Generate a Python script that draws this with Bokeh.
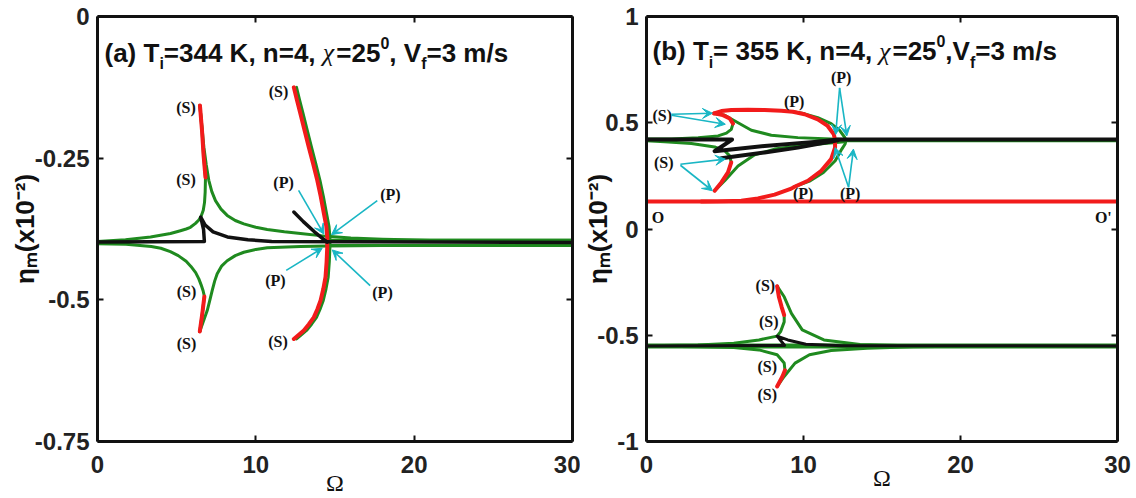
import math
from bokeh.plotting import figure
from bokeh.layouts import row
from bokeh.models import (Range1d, LinearAxis, FixedTicker, Label, Arrow, VeeHead,
                          ColumnDataSource, CustomJSTickFormatter, CustomLabelingPolicy)
from bokeh.core.properties import value
from bokeh.embed import file_html
from bokeh.resources import INLINE

GREEN = "#1f8a1f"
RED = "#f21b1b"
BLACK = "#111111"
CYAN = "#19b6c4"
SANS = "Liberation Sans"
SERIF = "Liberation Serif"

# ---------------- data : panel (a) ----------------
x_ticks = [0, 10, 20, 30]
a_yticks = [-0.75, -0.5, -0.25, 0]
y_label = "\u03b7\u2098(x10\u207b\u00b2)"
x_label = "\u03a9"

a_black_x = [0, 6.75, 6.7, 6.52, 6.8, 7.3, 8.2, 9.5, 11.0, 30]
a_black_y = [-0.398, -0.397, -0.376, -0.354, -0.368, -0.380, -0.389, -0.394, -0.397, -0.399]
a_black2_x = [12.4, 13.0, 13.7, 14.5]
a_black2_y = [-0.345, -0.362, -0.380, -0.398]

a_band_x = [14.5, 30]
a_band_up_y = [-0.395, -0.395]
a_band_lo_y = [-0.404, -0.404]

a_ui_x = [0, 1.77, 3.35, 4.61, 5.24, 5.6, 5.87, 6.19, 6.4, 6.55, 6.68, 6.76, 6.8, 6.82,
          6.7, 6.6, 6.47]
a_ui_y = [-0.397, -0.394, -0.389, -0.383, -0.378, -0.375, -0.372, -0.365, -0.359, -0.352,
          -0.342, -0.328, -0.310, -0.284, -0.245, -0.201, -0.157]
a_ui_red_x = [6.82, 6.7, 6.6, 6.47]
a_ui_red_y = [-0.284, -0.245, -0.201, -0.157]
a_uo_x = [6.46, 6.58, 6.72, 6.87, 7.03, 7.22, 7.45, 7.8, 8.19, 8.7, 9.24, 10.0, 10.72, 11.8,
          12.82, 14.5, 16, 18, 21, 30]
a_uo_y = [-0.157, -0.190, -0.231, -0.262, -0.289, -0.309, -0.325, -0.340, -0.351, -0.360,
          -0.366, -0.372, -0.376, -0.380, -0.383, -0.388, -0.391, -0.393, -0.395, -0.395]

a_li_x = [0, 1.8, 3.4, 4.0, 4.6, 5.1, 5.6, 5.9, 6.2, 6.4, 6.55, 6.67, 6.75, 6.62, 6.46]
a_li_y = [-0.401, -0.402, -0.406, -0.409, -0.415, -0.422, -0.432, -0.441, -0.452, -0.463,
          -0.474, -0.484, -0.494, -0.524, -0.556]
a_li_red_x = [6.75, 6.62, 6.46]
a_li_red_y = [-0.494, -0.524, -0.556]
a_lo_x = [6.46, 6.7, 6.93, 7.1, 7.25, 7.4, 7.56, 7.85, 8.19, 8.7, 9.24, 10.0, 10.72, 12.82,
          14.5, 18, 30]
a_lo_y = [-0.556, -0.537, -0.519, -0.500, -0.483, -0.467, -0.454, -0.440, -0.431, -0.422,
          -0.416, -0.411, -0.408, -0.406, -0.405, -0.404, -0.404]

a_arc_red_x = [12.40, 12.60, 12.82, 13.08, 13.35, 13.62, 13.88, 14.10, 14.30, 14.45, 14.51,
               14.51, 14.47, 14.40, 14.26, 14.09, 13.88, 13.66, 13.35, 13.03, 12.70, 12.40]
a_arc_red_y = [-0.125, -0.148, -0.172, -0.201, -0.231, -0.260, -0.289, -0.318, -0.348,
               -0.370, -0.389, -0.407, -0.433, -0.460, -0.481, -0.501, -0.517, -0.531,
               -0.543, -0.554, -0.562, -0.569]
a_arc_grn_x = [12.57, 12.77, 12.99, 13.25, 13.52, 13.79, 14.05, 14.27, 14.47, 14.62, 14.68,
               14.68, 14.64, 14.57, 14.43, 14.26, 14.05, 13.83, 13.52, 13.20, 12.87, 12.57]
a_arc_grn_y = a_arc_red_y

a_arr_xs = [12.7, 17.67, 11.92, 17.22]
a_arr_ys = [-0.307, -0.325, -0.448, -0.475]
a_arr_xe = [14.3, 14.78, 14.19, 14.83]
a_arr_ye = [-0.384, -0.385, -0.409, -0.412]

a_lab_x = [5.59, 5.59, 11.43, 5.62, 5.62, 11.4, 11.75, 18.5, 11.24, 18.0]
a_lab_y = [-0.161, -0.288, -0.132, -0.485, -0.577, -0.573, -0.293, -0.314, -0.466, -0.487]
a_lab_t = ["(S)", "(S)", "(S)", "(S)", "(S)", "(S)", "(P)", "(P)", "(P)", "(P)"]

# ---------------- data : panel (b) ----------------
b_yticks = [-1, -0.5, 0, 0.5, 1]

b_oo_x = [0, 30]
b_oo_y = [0.129, 0.129]

b_black_x = [0, 5.45, 4.34, 7.52, 10.7, 12.18, 30]
b_black_y = [0.421, 0.421, 0.366, 0.391, 0.410, 0.421, 0.421]
b_black2_x = [4.77, 7.52, 9.64, 12.18]
b_black2_y = [0.333, 0.360, 0.383, 0.418]
b_gband_x = [12.6, 30]
b_gband_y = [0.415, 0.415]

b_red_x = [4.30, 4.77, 5.40, 6.46, 7.52, 8.58, 9.33, 10.07, 10.91, 11.54, 11.93, 12.01,
           12.01, 11.76, 11.13, 10.28, 9.43, 9.22, 8.16, 7.1, 6.04, 4.5, 3.5]
b_red_y = [0.544, 0.555, 0.560, 0.561, 0.560, 0.557, 0.552, 0.540, 0.516, 0.485, 0.446, 0.418,
           0.383, 0.329, 0.274, 0.227, 0.199, 0.190, 0.162, 0.144, 0.133, 0.130, 0.129]
b_outer_x = [9.33, 10.07, 10.91, 11.76, 12.29, 12.61, 12.71, 12.65, 12.44, 12.02, 11.27, 10.43, 9.43]
b_outer_y = [0.552, 0.542, 0.524, 0.496, 0.465, 0.433, 0.418, 0.400, 0.376, 0.321, 0.266, 0.227, 0.199]

b_ui_x = [0, 1.59, 3.29, 4.56, 5.09, 5.40, 5.51]
b_ui_y = [0.423, 0.424, 0.429, 0.438, 0.451, 0.469, 0.496]
b_ui_red_x = [5.51, 5.30, 4.87, 4.30]
b_ui_red_y = [0.496, 0.520, 0.536, 0.544]
b_uo_x = [4.30, 4.98, 5.83, 6.68, 7.95, 9.64, 11.76, 12.61]
b_uo_y = [0.544, 0.535, 0.500, 0.465, 0.441, 0.430, 0.424, 0.421]
b_lo_x = [4.34, 4.98, 5.83, 6.89, 8.16, 9.64, 11.34, 12.61]
b_lo_y = [0.180, 0.227, 0.297, 0.349, 0.376, 0.391, 0.402, 0.411]
b_li_red_x = [4.34, 4.77, 5.19, 5.40]
b_li_red_y = [0.180, 0.219, 0.266, 0.313]
b_li_x = [5.40, 5.30, 4.98, 4.34, 2.86, 1.16, 0]
b_li_y = [0.313, 0.344, 0.368, 0.386, 0.402, 0.411, 0.415]

b2_black_x = [0, 8.8, 8.32, 9.0, 10.15, 12.45, 30]
b2_black_y = [-0.550, -0.548, -0.504, -0.522, -0.542, -0.549, -0.550]
b2_band_x = [0, 30]
b2_band_y = [-0.551, -0.551]
b2_uo_x = [8.32, 8.77, 9.23, 9.92, 11.3, 13.6, 16, 20]
b2_uo_y = [-0.269, -0.319, -0.397, -0.475, -0.522, -0.543, -0.548, -0.550]
b2_ui_red_x = [8.32, 8.43, 8.6, 8.77]
b2_ui_red_y = [-0.269, -0.319, -0.365, -0.405]
b2_ui_x = [8.77, 8.77, 8.54, 8.32, 7.16, 5.56, 3.27, 0]
b2_ui_y = [-0.405, -0.437, -0.483, -0.504, -0.522, -0.538, -0.546, -0.549]
b2_lo_x = [8.32, 8.77, 9.46, 10.38, 11.76, 14.05, 17, 20]
b2_lo_y = [-0.741, -0.694, -0.631, -0.592, -0.572, -0.561, -0.554, -0.552]
b2_li_red_x = [8.32, 8.66, 8.82]
b2_li_red_y = [-0.741, -0.694, -0.665]
b2_li_x = [8.82, 8.77, 8.32, 7.16, 5.56, 3.27, 0]
b2_li_y = [-0.665, -0.631, -0.592, -0.569, -0.558, -0.554, -0.551]

b_arr_xs = [1.59, 1.59, 2.16, 2.16, 12.3, 12.3, 12.87, 12.87]
b_arr_ys = [0.540, 0.535, 0.305, 0.300, 0.664, 0.664, 0.196, 0.196]
b_arr_xe = [4.2, 5.02, 5.02, 4.2, 12.05, 12.76, 12.01, 13.18]
b_arr_ye = [0.545, 0.493, 0.329, 0.180, 0.445, 0.438, 0.383, 0.376]

b_lab_x = [1.0, 1.1, 9.41, 12.4, 9.98, 12.97, 7.57, 7.79, 7.69, 7.69, 0.73, 29.1]
b_lab_y = [0.532, 0.312, 0.602, 0.714, 0.166, 0.166, -0.265, -0.436, -0.647, -0.780, 0.054, 0.052]
b_lab_t = ["(S)", "(S)", "(P)", "(P)", "(P)", "(P)", "(S)", "(S)", "(S)", "(S)", "O", "O'"]

# ---------------- helpers ----------------
SANS_W = {' ': 278, '(': 333, ')': 333, 'a': 556, 'b': 611, 'T': 611, 'i': 278, '=': 584,
          'K': 722, ',': 278, 'n': 611, 'V': 667, 'f': 333, 'm': 889, '/': 278, 's': 556,
          'x': 556, '-': 333, '.': 278}


def text_w(s, size, font):
    if font == SERIF:
        return 0.52 * size * len(s)
    return sum(SANS_W.get(c, 556) for c in s) * size / 1000.0


def make_fig(width, yr, bl, br, bt, bb, yticks, ylab_standoff, xlab_standoff, xlab_size):
    p = figure(width=width, height=498, x_range=Range1d(0, 30), y_range=Range1d(*yr),
               output_backend="svg", toolbar_location=None,
               min_border_left=bl, min_border_right=br, min_border_top=bt, min_border_bottom=bb)
    p.grid.visible = False
    p.outline_line_color = None
    p.background_fill_color = "white"
    p.border_fill_color = "white"
    bottom = p.below[0]
    left = p.left[0]
    bottom.ticker = FixedTicker(ticks=x_ticks)
    left.ticker = FixedTicker(ticks=yticks)
    left.formatter = CustomJSTickFormatter(code="return tick.toString();")
    no_labels = CustomLabelingPolicy(code="return [];")
    blank = CustomJSTickFormatter(code="return '';")
    top = LinearAxis(ticker=FixedTicker(ticks=x_ticks), formatter=blank,
                     major_label_policy=no_labels)
    right = LinearAxis(ticker=FixedTicker(ticks=yticks), formatter=blank,
                       major_label_policy=no_labels)
    p.add_layout(top, "above")
    p.add_layout(right, "right")
    for ax in (bottom, left, top, right):
        ax.axis_line_width = 3
        ax.axis_line_color = BLACK
        ax.major_tick_in = 6
        ax.major_tick_out = 0
        ax.major_tick_line_width = 2
        ax.major_tick_line_color = BLACK
        ax.minor_tick_in = 0
        ax.minor_tick_out = 0
        ax.major_label_text_font = SANS
        ax.major_label_text_font_style = "bold"
        ax.major_label_text_font_size = "24px"
        ax.major_label_text_color = "#222222"
    for ax in (top, right):
        ax.major_label_text_font_size = "1px"
        ax.major_label_standoff = 0
    bottom.major_label_standoff = 14
    left.major_label_standoff = 8
    left.axis_label = y_label
    left.axis_label_text_font = SANS
    left.axis_label_text_font_style = "bold"
    left.axis_label_text_font_size = "26px"
    left.axis_label_text_color = BLACK
    left.axis_label_standoff = ylab_standoff
    bottom.axis_label = x_label
    bottom.axis_label_text_font = SERIF
    bottom.axis_label_text_font_style = "normal"
    bottom.axis_label_text_font_size = xlab_size
    bottom.axis_label_text_color = BLACK
    bottom.axis_label_standoff = xlab_standoff
    return p


def ln(p, xs, ys, color, w):
    p.line(xs, ys, line_color=color, line_width=w, line_join="round", line_cap="round")


def put_runs(p, conv, x0, base, runs):
    x = x0
    for text, size, dy, font, style in runs:
        X, Y = conv(x, base + dy)
        p.add_layout(Label(x=X, y=Y, text=text, text_font=font, text_font_style=style,
                           text_font_size=f"{size}px", text_align="left",
                           text_baseline="alphabetic", text_color=BLACK))
        x += text_w(text, size, font)


def arrows(p, xs, ys, xe, ye):
    src = ColumnDataSource(dict(xs=xs, ys=ys, xe=xe, ye=ye))
    p.add_layout(Arrow(end=VeeHead(size=10, line_color=CYAN, fill_color=CYAN, line_width=1),
                       x_start="xs", y_start="ys", x_end="xe", y_end="ye", source=src,
                       line_color=CYAN, line_width=1.6))


def labels(p, xs, ys, ts):
    p.text(x=xs, y=ys, text=ts, text_font=value(SERIF), text_font_style="bold",
           text_font_size="16px", text_align="center", text_baseline="middle",
           text_color=BLACK)


# ---------------- panel (a) ----------------
pa = make_fig(580, (-0.75, 0), 97, 8, 16, 57, a_yticks, -8, -6, "24px")


def conv_a(px, py):
    return ((px - 97) / 475.0 * 30, -(py - 16) / 425.0 * 0.75)


ln(pa, a_band_x, a_band_up_y, GREEN, 3)
ln(pa, a_band_x, a_band_lo_y, GREEN, 3)
ln(pa, a_ui_x, a_ui_y, GREEN, 3)
ln(pa, a_uo_x, a_uo_y, GREEN, 3)
ln(pa, a_li_x, a_li_y, GREEN, 3)
ln(pa, a_lo_x, a_lo_y, GREEN, 3)
ln(pa, a_arc_grn_x, a_arc_grn_y, GREEN, 3)
ln(pa, a_arc_red_x, a_arc_red_y, RED, 4)
ln(pa, a_ui_red_x, a_ui_red_y, RED, 4)
ln(pa, a_li_red_x, a_li_red_y, RED, 4)
ln(pa, a_black_x, a_black_y, BLACK, 3.5)
ln(pa, a_black2_x, a_black2_y, BLACK, 3.5)
arrows(pa, a_arr_xs, a_arr_ys, a_arr_xe, a_arr_ye)
labels(pa, a_lab_x, a_lab_y, a_lab_t)

put_runs(pa, conv_a, 104, 52, [
    ("(a) T", 26, 0, SANS, "bold"), ("i", 16, 11, SANS, "bold"),
    ("=344 K, n=4, ", 26, 0, SANS, "bold"), ("\u03c7", 26, 0, SERIF, "italic"),
    ("=25", 26, 0, SANS, "bold"), ("0", 16, -10, SANS, "bold"),
    (", V", 26, 0, SANS, "bold"), ("f", 16, 11, SANS, "bold"),
    ("=3 m/s", 26, 0, SANS, "bold")])

# ---------------- panel (b) ----------------
pb = make_fig(556, (-1, 1), 65, 19, 15, 56, b_yticks, -19, -11, "24px")


def conv_b(px, py):
    return ((px - 645) / 472.0 * 30, 1 - (py - 15) / 427.0 * 2)


ln(pb, b_oo_x, b_oo_y, RED, 4)
ln(pb, b_gband_x, b_gband_y, GREEN, 3)
ln(pb, b2_band_x, b2_band_y, GREEN, 5)
ln(pb, b_ui_x, b_ui_y, GREEN, 3)
ln(pb, b_uo_x, b_uo_y, GREEN, 3)
ln(pb, b_lo_x, b_lo_y, GREEN, 3)
ln(pb, b_li_x, b_li_y, GREEN, 3)
ln(pb, b_outer_x, b_outer_y, GREEN, 3)
ln(pb, b_red_x, b_red_y, RED, 4)
ln(pb, b_ui_red_x, b_ui_red_y, RED, 4)
ln(pb, b_li_red_x, b_li_red_y, RED, 4)
ln(pb, b2_uo_x, b2_uo_y, GREEN, 3)
ln(pb, b2_ui_x, b2_ui_y, GREEN, 3)
ln(pb, b2_lo_x, b2_lo_y, GREEN, 3)
ln(pb, b2_li_x, b2_li_y, GREEN, 3)
ln(pb, b2_ui_red_x, b2_ui_red_y, RED, 4)
ln(pb, b2_li_red_x, b2_li_red_y, RED, 4)
ln(pb, b_black_x, b_black_y, BLACK, 4)
ln(pb, b_black2_x, b_black2_y, BLACK, 4)
ln(pb, b2_black_x, b2_black_y, BLACK, 3)
arrows(pb, b_arr_xs, b_arr_ys, b_arr_xe, b_arr_ye)
labels(pb, b_lab_x, b_lab_y, b_lab_t)

put_runs(pb, conv_b, 651, 50, [
    ("(b) T", 26, 0, SANS, "bold"), ("i", 16, 11, SANS, "bold"),
    ("= 355 K, n=4, ", 26, 0, SANS, "bold"), ("\u03c7", 26, 0, SERIF, "italic"),
    ("=25", 26, 0, SANS, "bold"), ("0", 16, -10, SANS, "bold"),
    (",V", 26, 0, SANS, "bold"), ("f", 16, 11, SANS, "bold"),
    ("=3 m/s", 26, 0, SANS, "bold")])

layout = row(pa, pb)
open("out.html", "w").write(file_html(layout, INLINE))
